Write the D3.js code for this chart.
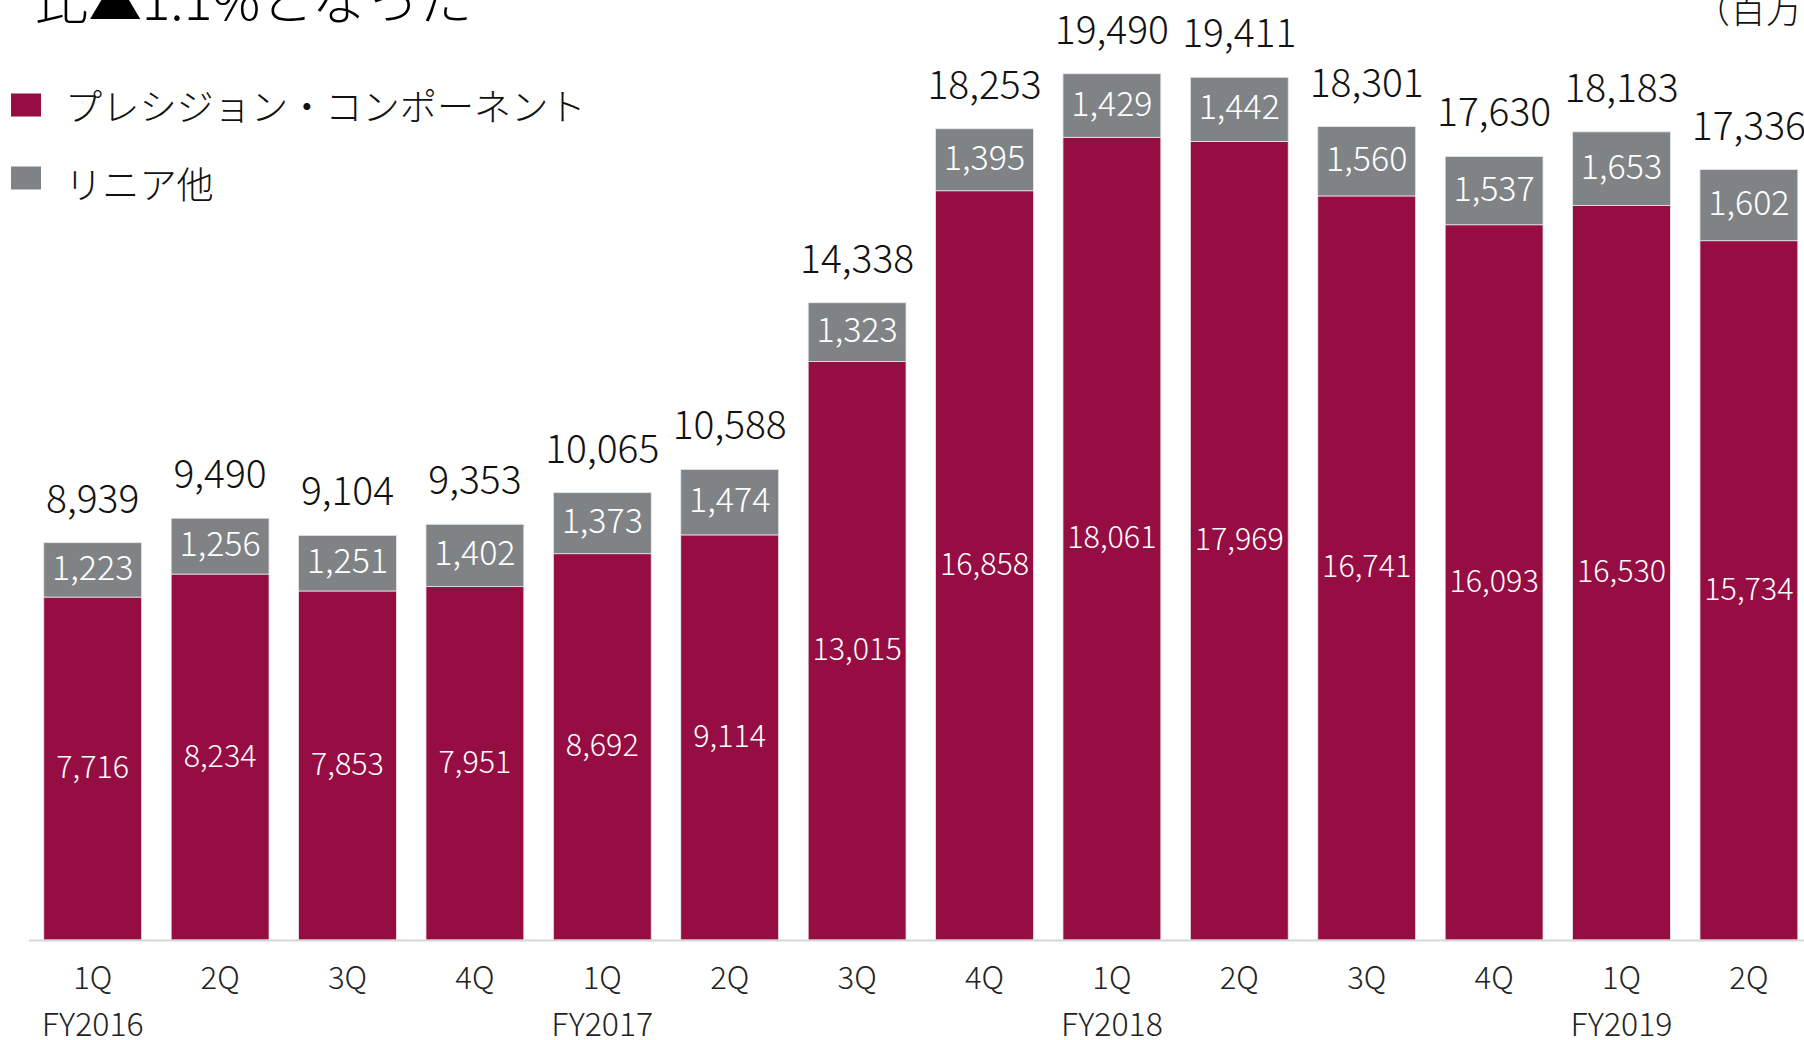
<!DOCTYPE html>
<html>
<head>
<meta charset="utf-8">
<script src="https://cdn.jsdelivr.net/npm/d3@7"></script>
<style>
  html, body { margin: 0; padding: 0; background: #ffffff; }
  svg { display: block; }
  text { font-family: "Noto Sans CJK JP", "Noto Sans", sans-serif; }
</style>
</head>
<body>
<div id="chart"></div>
<script>
// ---- data ----
const quarters = ["1Q","2Q","3Q","4Q","1Q","2Q","3Q","4Q","1Q","2Q","3Q","4Q","1Q","2Q"];
const fiscalYears = ["FY2016","FY2017","FY2018","FY2019"];
const fiscalYearStart = [0, 4, 8, 12];
const precision = [7716,8234,7853,7951,8692,9114,13015,16858,18061,17969,16741,16093,16530,15734];
const linear = [1223,1256,1251,1402,1373,1474,1323,1395,1429,1442,1560,1537,1653,1602];
const totals = [8939,9490,9104,9353,10065,10588,14338,18253,19490,19411,18301,17630,18183,17336];
const seriesNames = ["プレシジョン・コンポーネント", "リニア他"];
const titleText = "比▲1.1%となった";
const unitText = "（百万円）";

const W = 1804, H = 1040;
const RED = "#950d42", GRAY = "#7f8386";

const svg = d3.select("#chart").append("svg")
  .attr("width", W).attr("height", H);

const idx = d3.range(quarters.length);
const x = d3.scaleBand().domain(idx).range([29, 1812.6])
  .paddingInner(0.232).paddingOuter(0.116);
const y = d3.scaleLinear().domain([0, 21150]).range([940, 0]);

// bars
const g = svg.append("g");
g.selectAll("rect.p").data(idx).join("rect")
  .attr("x", i => x(i)).attr("width", x.bandwidth())
  .attr("y", i => y(precision[i])).attr("height", i => y(0) - y(precision[i]))
  .attr("fill", RED).attr("stroke", "#e6e6e6").attr("stroke-width", 0.8);
g.selectAll("rect.l").data(idx).join("rect")
  .attr("x", i => x(i)).attr("width", x.bandwidth())
  .attr("y", i => y(precision[i] + linear[i])).attr("height", i => y(precision[i]) - y(precision[i] + linear[i]))
  .attr("fill", GRAY).attr("stroke", "#e6e6e6").attr("stroke-width", 0.8);

// axis line
svg.append("line").attr("x1", 29).attr("x2", W).attr("y1", 940.5).attr("y2", 940.5)
  .attr("stroke", "#d6d6d6").attr("stroke-width", 2);

const fmt = d3.format(",");
// value labels
g.selectAll("text.p").data(idx).join("text")
  .attr("x", i => x(i) + x.bandwidth() / 2)
  .attr("y", i => (y(0) + y(precision[i])) / 2 - 3.5)
  .attr("text-anchor", "middle").attr("dominant-baseline", "central")
  .attr("fill", "#ffffff").attr("font-size", 30.5).attr("font-weight", 300)
  .text(i => fmt(precision[i]));
g.selectAll("text.l").data(idx).join("text")
  .attr("x", i => x(i) + x.bandwidth() / 2)
  .attr("y", i => (y(precision[i]) + y(precision[i] + linear[i])) / 2 - 4.5)
  .attr("text-anchor", "middle").attr("dominant-baseline", "central")
  .attr("fill", "#ffffff").attr("font-size", 34).attr("font-weight", 300)
  .text(i => fmt(linear[i]));
g.selectAll("text.t").data(idx).join("text")
  .attr("x", i => x(i) + x.bandwidth() / 2)
  .attr("y", i => y(totals[i]) - 30)
  .attr("text-anchor", "middle")
  .attr("fill", "#111111").attr("font-size", 39).attr("font-weight", 300)
  .text(i => fmt(totals[i]));

// x axis labels
svg.selectAll("text.q").data(idx).join("text")
  .attr("x", i => x(i) + x.bandwidth() / 2).attr("y", 989)
  .attr("text-anchor", "middle").attr("fill", "#222222")
  .attr("font-size", 31).attr("font-weight", 300)
  .text(i => quarters[i]);
svg.selectAll("text.fy").data(fiscalYears).join("text")
  .attr("x", (d, k) => x(fiscalYearStart[k]) + x.bandwidth() / 2).attr("y", 1036)
  .attr("text-anchor", "middle").attr("fill", "#222222")
  .attr("font-size", 32).attr("font-weight", 300)
  .text(d => d);

// legend
const lg = svg.append("g");
const legendY = [105, 178];
const legendTextY = [104.5, 183];
const colors = [RED, GRAY];
seriesNames.forEach((name, k) => {
  lg.append("rect").attr("x", 11).attr("y", legendY[k] - 11.5).attr("width", 30).attr("height", 23)
    .attr("fill", colors[k]);
  lg.append("text").attr("x", 65).attr("y", legendTextY[k])
    .attr("dominant-baseline", "central").attr("fill", "#111111")
    .attr("font-size", 37.2).attr("font-weight", 300)
    .text(name);
});

// title (cut off at top) and unit
svg.append("text").attr("x", 35).attr("y", 20)
  .attr("font-size", 52).attr("fill", "#000000").attr("font-weight", 300)
  .attr("textLength", 437).attr("lengthAdjust", "spacingAndGlyphs")
  .text(titleText);
svg.append("text").attr("x", 1694).attr("y", 23)
  .attr("font-size", 36).attr("fill", "#111111").attr("font-weight", 300)
  .text(unitText);
</script>
</body>
</html>
